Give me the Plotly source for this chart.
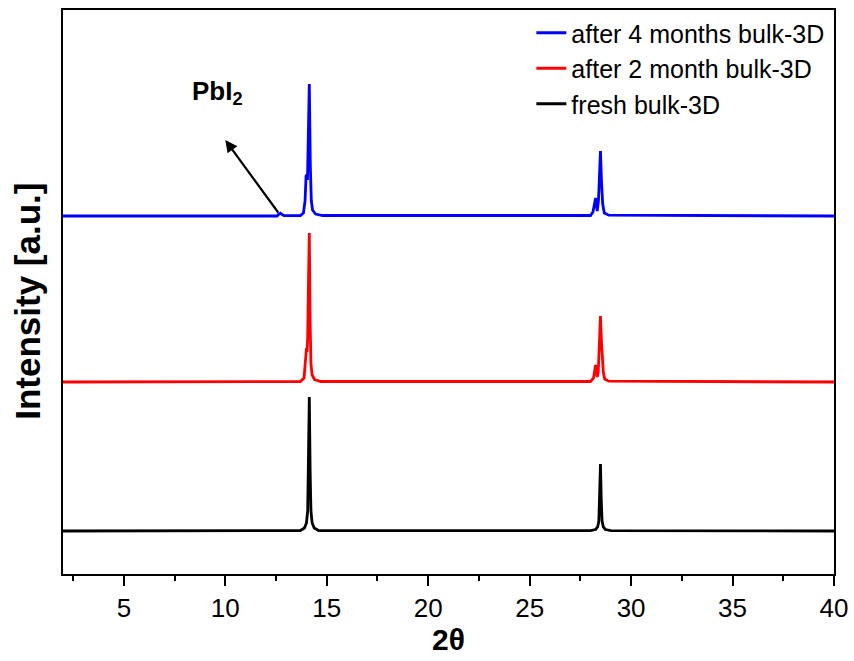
import plotly.graph_objects as go

# Diffraction angle (2θ, degrees) and intensity (a.u.) for each sample.
# Fresh film
fresh_2theta = [2.0, 13.7, 13.9, 14.0, 14.06, 14.10, 14.14, 14.18, 14.22, 14.28, 14.38, 14.6,
                28.0, 28.25, 28.35, 28.41, 28.45, 28.49, 28.53, 28.57, 28.63, 28.73, 29.0, 40.0]
fresh_int = [0.0, 0.5, 3.0, 8.0, 20.0, 60.0, 134.0, 60.0, 20.0, 8.0, 3.0, 0.5,
             0.3, 1.5, 4.0, 10.0, 30.0, 67.0, 30.0, 10.0, 4.0, 1.5, 0.3, 0.0]

# After 2 months
m2_2theta = [2.0, 13.7, 13.88, 13.96, 14.0, 14.03, 14.06, 14.10, 14.14, 14.18, 14.22, 14.28, 14.4, 14.7,
             28.0, 28.15, 28.22, 28.25, 28.28, 28.33, 28.38, 28.44, 28.49, 28.54, 28.58, 28.63, 28.7, 28.9, 40.0]
m2_int = [0.0, 0.5, 4.0, 20.0, 34.0, 30.0, 45.0, 100.0, 149.0, 60.0, 18.0, 7.0, 2.5, 0.5,
          0.5, 4.0, 14.0, 17.0, 12.0, 5.0, 10.0, 45.0, 66.0, 40.0, 30.0, 10.0, 3.0, 0.8, 0.0]

# After 4 months (weak PbI2 reflection near 12.7°)
m4_2theta = [2.0, 12.55, 12.65, 12.72, 12.8, 12.9, 13.7, 13.85, 13.93, 13.98, 14.02, 14.05, 14.09, 14.14,
             14.19, 14.24, 14.3, 14.45, 14.8, 28.0, 28.12, 28.2, 28.25, 28.29, 28.33, 28.39, 28.45, 28.49,
             28.54, 28.6, 28.68, 28.9, 40.0]
m4_int = [0.0, 0.0, 2.0, 2.8, 1.5, 0.3, 0.5, 3.0, 15.0, 40.0, 41.0, 36.0, 80.0, 132.0,
          50.0, 15.0, 6.0, 2.0, 0.5, 0.5, 4.0, 14.0, 18.0, 10.0, 5.0, 15.0, 50.0, 65.0,
          35.0, 12.0, 3.0, 0.8, 0.0]

series_names = ["after 4 months bulk-3D", "after 2 month bulk-3D", "fresh bulk-3D"]
series_x = [m4_2theta, m2_2theta, fresh_2theta]
series_y = [m4_int, m2_int, fresh_int]
series_colors = ["#0000FF", "#FF0000", "#000000"]
stack_offsets = [358, 192, 43]

x_ticks = [5, 10, 15, 20, 25, 30, 35, 40]

fig = go.Figure()
for name, xs, ys, col, off in zip(series_names, series_x, series_y, series_colors, stack_offsets):
    fig.add_trace(go.Scatter(
        x=xs, y=[v + off for v in ys], mode="lines", name=name,
        line=dict(color=col, width=2.8),
    ))

# PbI2 marker: arrow from the weak reflection of the aged film
fig.add_annotation(
    x=10.0, y=434, ax=12.66, ay=360, xref="x", yref="y", axref="x", ayref="y",
    showarrow=True, arrowhead=2, arrowsize=1.1, arrowwidth=2.2, arrowcolor="black", text="",
)
fig.add_annotation(
    x=9.6, y=482, xref="x", yref="y", showarrow=False,
    text="<b>PbI<sub>2</sub></b>", font=dict(family="Liberation Sans, Arial", size=26, color="black"),
)

# Vertical axis title
fig.add_annotation(
    x=-0.047, y=0.484, xref="paper", yref="paper", showarrow=False, textangle=-90,
    xanchor="center", yanchor="middle",
    text="<b>Intensity [a.u.]</b>", font=dict(family="Liberation Sans, Arial", size=35, color="black"),
)

fig.update_layout(
    width=854, height=661,
    margin=dict(l=63, r=20, t=10, b=87, autoexpand=False),
    plot_bgcolor="white", paper_bgcolor="white",
    font=dict(family="Liberation Sans, Arial", color="black"),
    showlegend=True,
    legend=dict(
        x=0.994, y=1.0, xanchor="right", yanchor="top",
        bgcolor="rgba(0,0,0,0)", font=dict(size=25, color="black"),
        tracegroupgap=0, itemwidth=30,
    ),
    xaxis=dict(
        range=[2, 40], tickvals=x_ticks, ticks="outside", ticklen=10, tickwidth=1.6,
        tickcolor="black", showline=True, linecolor="black", linewidth=1.8, mirror=True,
        showgrid=False, zeroline=False, tickfont=dict(size=26), automargin=False,
        minor=dict(tickvals=[2.5 + 5 * i for i in range(8)], ticks="outside", ticklen=5,
                   tickwidth=1.6, tickcolor="black"),
        title=dict(text="<b>2θ</b>", font=dict(size=30), standoff=6),
    ),
    yaxis=dict(
        range=[0, 564], showticklabels=False, ticks="", showline=True, linecolor="black",
        linewidth=1.8, mirror=True, showgrid=False, zeroline=False, automargin=False,
    ),
)

fig.write_html("out.html")
